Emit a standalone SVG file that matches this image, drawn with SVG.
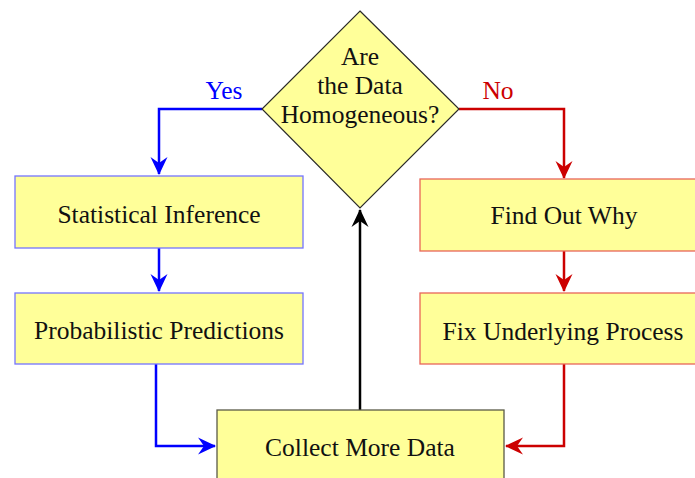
<svg xmlns="http://www.w3.org/2000/svg" width="695" height="478" viewBox="0 0 695 478">
<style>
text{font-family:"Liberation Serif","Times New Roman",serif;font-size:25.5px;fill:#111;text-anchor:middle}
.blue{fill:#ffff99;stroke:#7474ff;stroke-width:1.3}
.red{fill:#ffff99;stroke:#e8665a;stroke-width:1.3}
.dark{fill:#ffff99;stroke:#5a5a48;stroke-width:1.3}
.dia{fill:#ffff99;stroke:#2a2a2a;stroke-width:1.2}
.cb{fill:none;stroke:#0000ff;stroke-width:2.5}
.cr{fill:none;stroke:#cc0000;stroke-width:2.5}
.ck{fill:none;stroke:#000;stroke-width:2.5}
</style>
<defs>
<marker id="ab" viewBox="-18 -9 19 18" refX="0" refY="0" markerWidth="19" markerHeight="18" markerUnits="userSpaceOnUse" orient="auto"><path d="M1,0 L-17,-8.5 L-11,0 L-17,8.5 Z" fill="#0000ff"/></marker>
<marker id="ar" viewBox="-18 -9 19 18" refX="0" refY="0" markerWidth="19" markerHeight="18" markerUnits="userSpaceOnUse" orient="auto"><path d="M1,0 L-17,-8.5 L-11,0 L-17,8.5 Z" fill="#cc0000"/></marker>
<marker id="ak" viewBox="-18 -9 19 18" refX="0" refY="0" markerWidth="19" markerHeight="18" markerUnits="userSpaceOnUse" orient="auto"><path d="M1,0 L-17,-8.5 L-11,0 L-17,8.5 Z" fill="#000"/></marker>
</defs>
<g id="connectors">
<path class="cb" d="M262,109 H159 V174" marker-end="url(#ab)"/>
<path class="cb" d="M159,248 V291" marker-end="url(#ab)"/>
<path class="cb" d="M156,364 V446 H215" marker-end="url(#ab)"/>
<path class="cr" d="M459,109 H564 V178" marker-end="url(#ar)"/>
<path class="cr" d="M564,251 V291" marker-end="url(#ar)"/>
<path class="cr" d="M564,364 V446 H506" marker-end="url(#ar)"/>
<path class="ck" d="M360,410 V210" marker-end="url(#ak)"/>
<text x="224" y="99" style="fill:#0000ff">Yes</text>
<text x="498" y="99" style="fill:#cc0000">No</text>
</g>
<g id="decision">
<path class="dia" d="M360,11 L459,109 L360,208 L262,109 Z"/>
<text x="360" y="65">Are</text>
<text x="360" y="94">the Data</text>
<text x="360" y="123">Homogeneous?</text>
</g>
<g id="statistical-inference">
<rect class="blue" x="15" y="176" width="288" height="72"/>
<text x="159" y="223">Statistical Inference</text>
</g>
<g id="probabilistic-predictions">
<rect class="blue" x="15" y="293" width="288" height="71"/>
<text x="159" y="339">Probabilistic Predictions</text>
</g>
<g id="find-out-why">
<rect class="red" x="420" y="179" width="290" height="72"/>
<text x="564" y="224">Find Out Why</text>
</g>
<g id="fix-underlying-process">
<rect class="red" x="420" y="293" width="290" height="71"/>
<text x="563" y="340">Fix Underlying Process</text>
</g>
<g id="collect-more-data">
<rect class="dark" x="217" y="410" width="287" height="75"/>
<text x="360" y="456">Collect More Data</text>
</g>
</svg>
